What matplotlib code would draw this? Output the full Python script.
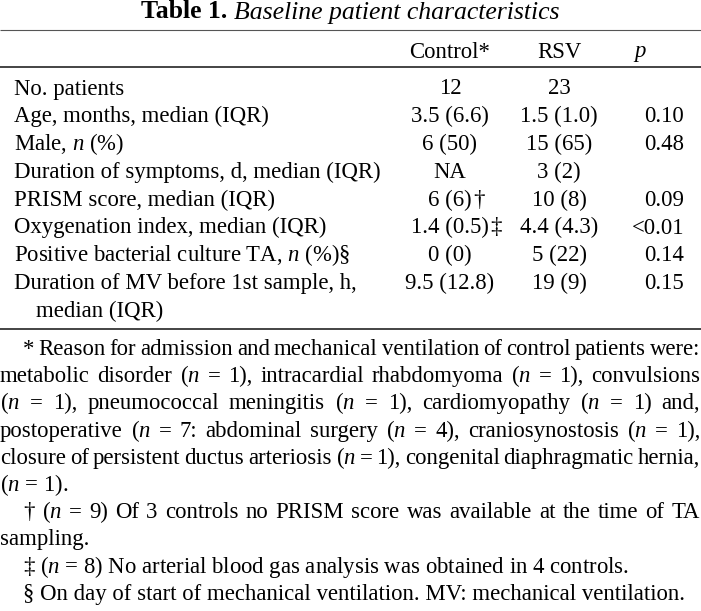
import matplotlib
matplotlib.use("Agg")
import matplotlib.pyplot as plt

plt.rcParams["font.family"] = ["Liberation Serif", "DejaVu Serif"]
plt.rcParams["mathtext.fontset"] = "custom"
plt.rcParams["mathtext.rm"] = "Liberation Serif"
plt.rcParams["mathtext.it"] = "Liberation Serif:italic"

# table content
title_bold = "Table 1."
title_italic = "Baseline patient characteristics"
col_headers = ["Control*", "RSV"]
p_header = "p"

row_labels = [
    ["No. patients"],
    ["Age, months, median (IQR)"],
    ["Male, $n$ (%)"],
    ["Duration of symptoms, d, median (IQR)"],
    ["PRISM score, median (IQR)"],
    ["Oxygenation index, median (IQR)"],
    ["Positive bacterial culture TA, $n$ (%)§"],
    ["Duration of MV before 1st sample, h,", "median (IQR)"],
]
control = ["12", "3.5 (6.6)", "6 (50)", "NA", "6 (6)", "1.4 (0.5)", "0 (0)", "9.5 (12.8)"]
control_marks = ["", "", "", "", "†", "‡", "", ""]
rsv = ["23", "1.5 (1.0)", "15 (65)", "3 (2)", "10 (8)", "4.4 (4.3)", "5 (22)", "19 (9)"]
p_values = ["", "0.10", "0.48", "", "0.09", "<0.01", "0.14", "0.15"]

# footnotes: (text, starts paragraph, justified)
notes = [
    ("* Reason for admission and mechanical ventilation of control patients were:", True, True),
    ("metabolic disorder ($n$ = 1), intracardial rhabdomyoma ($n$ = 1), convulsions", False, True),
    ("($n$ = 1), pneumococcal meningitis ($n$ = 1), cardiomyopathy ($n$ = 1) and,", False, True),
    ("postoperative ($n$ = 7: abdominal surgery ($n$ = 4), craniosynostosis ($n$ = 1),", False, True),
    ("closure of persistent ductus arteriosis ($n$ = 1), congenital diaphragmatic hernia,", False, True),
    ("($n$ = 1).", False, False),
    ("† ($n$ = 9) Of 3 controls no PRISM score was available at the time of TA", True, True),
    ("sampling.", False, False),
    ("‡ ($n$ = 8) No arterial blood gas analysis was obtained in 4 controls.", True, False),
    ("§ On day of start of mechanical ventilation. MV: mechanical ventilation.", True, False),
]

W, H = 701, 611
fig = plt.figure(figsize=(W / 100, H / 100), dpi=100)
fig.patch.set_facecolor("white")
ax = fig.add_axes([0, 0, 1, 1])
ax.set_xlim(0, W)
ax.set_ylim(H, 0)
ax.axis("off")
renderer = fig.canvas.get_renderer()

FS = 16.4
TITLE_FS = 18.5


def width_of(t):
    return t.get_window_extent(renderer).width


# title, centred from two pieces
tb = ax.text(0, 18.5, title_bold + " ", fontsize=TITLE_FS, fontweight="bold", va="baseline")
ti = ax.text(0, 18.5, title_italic, fontsize=TITLE_FS, fontstyle="italic", va="baseline")
wb, wi = width_of(tb), width_of(ti)
x0 = W / 2 - (wb + wi) / 2
tb.set_x(x0)
ti.set_x(x0 + wb)

# rules: thin grey one on top, heavier ones under header and table body
ax.plot([0, W], [29.5, 29.5], color="#555555", lw=0.8, solid_capstyle="butt")
for y in (67, 329):
    ax.plot([0, W], [y, y], color="#111111", lw=1.1, solid_capstyle="butt")

ctrl_x, rsv_x, p_right = 450, 559, 684

ax.text(ctrl_x, 57.5, col_headers[0], fontsize=FS, ha="center", va="baseline")
ax.text(rsv_x, 57.5, col_headers[1], fontsize=FS, ha="center", va="baseline")
ax.text(640, 57.5, p_header, fontsize=FS, fontstyle="italic", ha="center", va="baseline")

pitch = 27.8
y = 94.5
for label, c, cm, r, p in zip(row_labels, control, control_marks, rsv, p_values):
    ax.text(14, y, label[0], fontsize=FS, va="baseline")
    tc = ax.text(ctrl_x, y, c, fontsize=FS, ha="center", va="baseline")
    if cm:
        ax.text(ctrl_x + width_of(tc) / 2 + 1, y, cm, fontsize=FS, va="baseline")
    ax.text(rsv_x, y, r, fontsize=FS, ha="center", va="baseline")
    if p:
        ax.text(p_right, y, p, fontsize=FS, ha="right", va="baseline")
    for extra in label[1:]:
        y += pitch
        ax.text(36, y, extra, fontsize=FS, va="baseline")
    y += pitch

# footnotes, justified like the printed page
note_pitch = 27.2
y = 355
for text, first, justify in notes:
    left = 23 if first else 0
    if justify:
        words = text.split(" ")
        ts = [ax.text(0, y, w, fontsize=FS, va="baseline") for w in words]
        ws = [width_of(t) for t in ts]
        gap = (700 - left - sum(ws)) / (len(words) - 1)
        x = left
        for t, w in zip(ts, ws):
            t.set_x(x)
            x += w + gap
    else:
        ax.text(left, y, text, fontsize=FS, va="baseline")
    y += note_pitch

fig.savefig("out.png", dpi=100, facecolor="white")
